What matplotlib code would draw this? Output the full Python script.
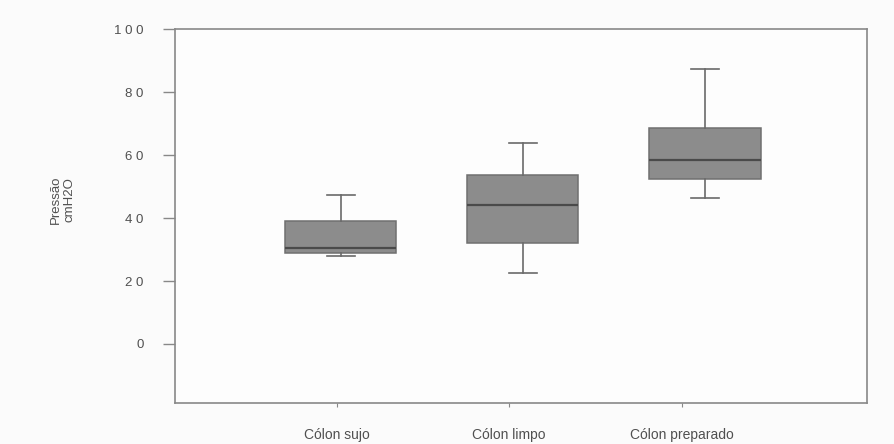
import matplotlib.pyplot as plt

plt.rcParams['font.family'] = ['Liberation Sans', 'DejaVu Sans']

# values (cmH2O)
groups = ['Cólon sujo', 'Cólon limpo', 'Cólon preparado']
whislo = [28.0, 22.6, 46.5]
q1 = [29.0, 32.2, 52.5]
med = [30.6, 44.3, 58.6]
q3 = [39.2, 53.8, 68.8]
whishi = [47.5, 64.0, 87.3]
yticks = [0, 20, 40, 60, 80, 100]
ytick_labels = ['0', '2 0', '4 0', '6 0', '8 0', '1 0 0']

stats = []
for i in range(len(groups)):
    stats.append({'label': groups[i], 'whislo': whislo[i], 'q1': q1[i], 'med': med[i],
                  'q3': q3[i], 'whishi': whishi[i], 'fliers': []})

fig = plt.figure(figsize=(8.95, 4.44), dpi=100)
fig.patch.set_facecolor('#fbfbfb')
ax = fig.add_axes([0.1955, 0.0923, 0.7732, 0.8413])
ax.set_facecolor('#fdfdfd')

ax.bxp(stats, positions=[1, 2, 3], widths=0.61, patch_artist=True, showfliers=False,
       boxprops=dict(facecolor='#8c8c8c', edgecolor='#707070', linewidth=1.1),
       medianprops=dict(color='#4a4a4a', linewidth=1.6),
       whiskerprops=dict(color='#6a6a6a', linewidth=1.2),
       capprops=dict(color='#6a6a6a', linewidth=1.2), capwidths=0.155)

ax.set_xlim(0.088, 3.89)
ax.set_ylim(-18.8, 100)

# tick marks in the original sit a little left of the boxes
ax.set_xticks([0.978, 1.923, 2.874])
ax.set_xticklabels(groups, fontsize=10, color='#505050')
ax.set_yticks(yticks)
ax.set_yticklabels(ytick_labels, fontsize=9.5, color='#505050')

ax.tick_params(axis='y', direction='out', length=8.5, width=1, color='#888888', pad=14)
ax.tick_params(axis='x', direction='out', length=3, width=0.8, color='#888888', pad=15)
for s in ax.spines.values():
    s.set_color('#888888')
    s.set_linewidth(1.2)

fig.text(0.07, 0.55, 'Pressão\ncmH2O', rotation=90, ha='center', va='center',
         fontsize=9.5, color='#505050', linespacing=1.1)

fig.savefig('out.png', dpi=100, facecolor=fig.get_facecolor())
